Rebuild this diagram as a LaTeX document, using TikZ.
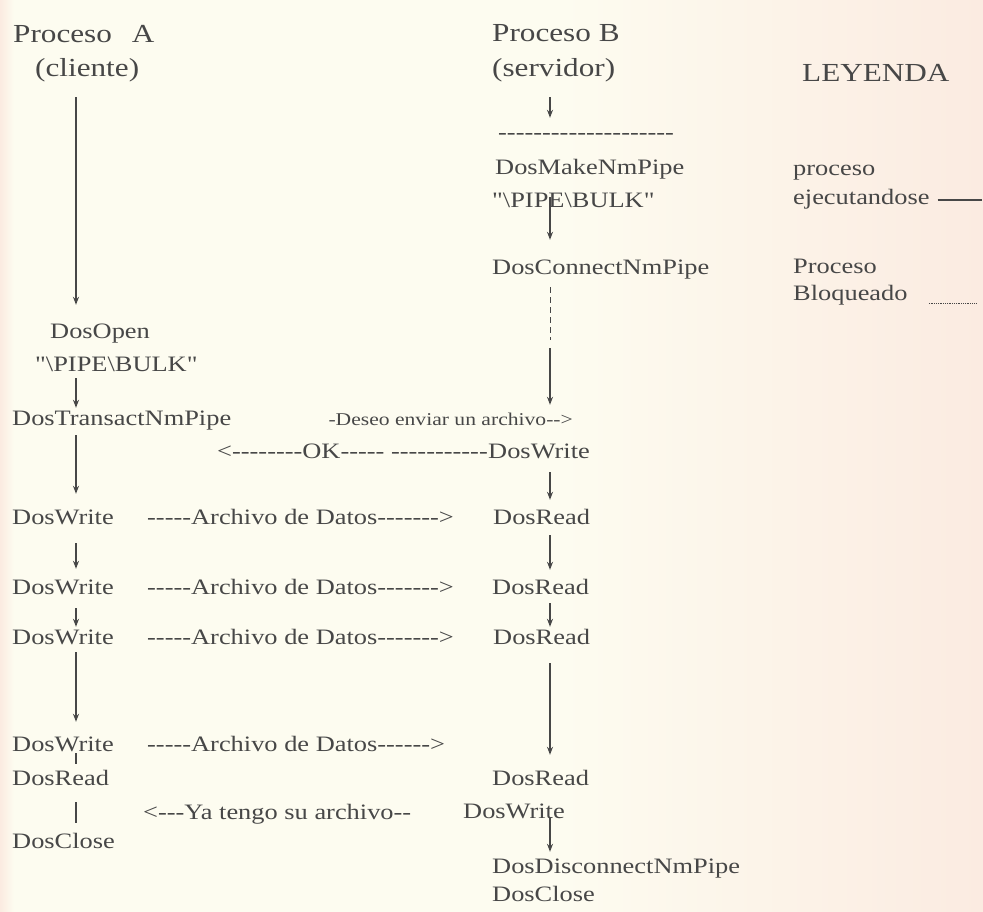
\documentclass[tikz,border=0pt]{standalone}
\usepackage{fontspec}
\setmainfont{Liberation Serif}[FakeStretch=1.2, Ligatures=TeXOff]
\usetikzlibrary{arrows.meta}
\definecolor{ink}{HTML}{474747}
\definecolor{paper}{HTML}{FDFCF0}
\definecolor{paperpink}{HTML}{FBEBE1}
\begin{document}
\begin{tikzpicture}[x=1pt,y=-1pt,
  lbl/.style={inner sep=0pt, anchor=base west, text=ink,
    font=\fontsize{22}{26}\selectfont, text height=15pt, text depth=4pt},
  head/.style={lbl, font=\fontsize{26}{30}\selectfont},
  small/.style={lbl, font=\fontsize{18}{22}\selectfont, text height=12pt},
  flow/.style={draw=ink, line width=1.1pt, -{Stealth[length=8pt,width=6pt]}},
  plain/.style={draw=ink, line width=1.1pt},
  blocked/.style={draw=ink, line width=1pt, dash pattern=on 6pt off 4pt},
]
% paper
\fill[paper] (0,0) rectangle (983,912);
\shade[left color=paper, right color=paperpink] (560,0) rectangle (983,912);
\shade[left color=paperpink, right color=paper] (0,0) rectangle (14,912);
\useasboundingbox (0,0) rectangle (983,912);

% column axes
\coordinate (xA) at (76,0);
\coordinate (xB) at (550,0);

% headings
\node[head] (pa)   at (13,43)  {Proceso\hspace{20pt}A};
\node[head] (pacl) at (35,77)  {(cliente)};
\node[head] (pb)   at (492,42) {Proceso B};
\node[head] (pbsv) at (492,77) {(servidor)};
\node[head] (ley)  at (802,82) {LEYENDA};

% legend
\node[lbl] (lg1) at (793,176) {proceso};
\node[lbl] (lg2) at (793,205) {ejecutandose};
\node[lbl] (lg3) at (793,274) {Proceso};
\node[lbl] (lg4) at (793,301) {Bloqueado};
\draw[ink, line width=1.6pt] ([xshift=8pt,yshift=5pt]lg2.base east) -- ++(44,0);
\draw[ink, line width=0.8pt, densely dotted] ([xshift=21pt,yshift=-2pt]lg4.base east) -- ++(47,0);

% process A (client)
\node[lbl] (aopen)  at (50,338) {DosOpen};
\node[lbl] (apipe)  at (35,371) {"\textbackslash PIPE\textbackslash BULK"};
\node[lbl] (atrans) at (12,425) {DosTransactNmPipe};
\node[lbl] (aw1)    at (12,524) {DosWrite};
\node[lbl] (aw2)    at (12,594) {DosWrite};
\node[lbl] (aw3)    at (12,644) {DosWrite};
\node[lbl] (aw4)    at (12,751) {DosWrite};
\node[lbl] (ard)    at (12,785) {DosRead};
\node[lbl] (acl)    at (12,848) {DosClose};

% process B (server)
\node[lbl] (bdash) at (498,140) {--------------------};
\node[lbl] (bmake) at (495,175) {DosMakeNmPipe};
\node[lbl] (bpipe) at (492,208) {"\textbackslash PIPE\textbackslash BULK"};
\node[lbl] (bconn) at (492,275) {DosConnectNmPipe};
\node[small, anchor=base east] (deseo) at (573,425) {-Deseo enviar un archivo-->};
\node[lbl, anchor=base east] (bw1) at (590,458) {DosWrite};
\node[lbl, anchor=base east] (okmsg) at (bw1.base west) {<--------OK----- -----------};
\node[lbl] (br1)   at (493,524) {DosRead};
\node[lbl] (br2)   at (492,594) {DosRead};
\node[lbl] (br3)   at (493,644) {DosRead};
\node[lbl] (br4)   at (492,785) {DosRead};
\node[lbl] (bw2)   at (463,818) {DosWrite};
\node[lbl] (bdisc) at (492,873) {DosDisconnectNmPipe};
\node[lbl] (bcl)   at (492,901) {DosClose};

% messages between the processes
\node[lbl] (m1) at (147,524) {-----Archivo de Datos------->};
\node[lbl] (m2) at (147,594) {-----Archivo de Datos------->};
\node[lbl] (m3) at (147,644) {-----Archivo de Datos------->};
\node[lbl] (m4) at (147,751) {-----Archivo de Datos------>};
\node[lbl] (m5) at (143,819) {<---Ya tengo su archivo--};

% flow of process A
\draw[flow, shorten <=16pt, shorten >=18pt] (pacl.south -| xA) -- (aopen.north -| xA);
\draw[flow, shorten <=3pt, shorten >=2pt] (apipe.south -| xA) -- (atrans.north -| xA);
\draw[flow, shorten <=6pt, shorten >=15pt] (atrans.south -| xA) -- (aw1.north -| xA);
\draw[flow, shorten <=15pt, shorten >=10pt] (aw1.south -| xA) -- (aw2.north -| xA);
\draw[flow, shorten <=10pt, shorten >=2pt] (aw2.south -| xA) -- (aw3.north -| xA);
\draw[flow, shorten <=4pt, shorten >=14pt] (aw3.south -| xA) -- (aw4.north -| xA);
\draw[plain, shorten <=-2pt, shorten >=6pt] (aw4.south -| xA) -- (ard.north -| xA);
\draw[plain, shorten <=13pt, shorten >=10pt] (ard.south -| xA) -- (acl.north -| xA);

% flow of process B
\draw[flow, shorten <=16pt, shorten >=7pt] (pbsv.south -| xB) -- (bdash.north -| xB);
\draw[flow, shorten <=-15pt, shorten >=20pt] (bpipe.south -| xB) -- (bconn.north -| xB);
\coordinate (bwait) at (550,340);
\draw[blocked, shorten <=8pt] (bconn.south -| xB) -- (bwait);
\draw[flow, shorten <=8pt, shorten >=8pt] (bwait) -- (deseo.north -| xB);
\draw[flow, shorten <=10pt, shorten >=9pt] (bw1.south -| xB) -- (br1.north -| xB);
\draw[flow, shorten <=7pt, shorten >=9pt] (br1.south -| xB) -- (br2.north -| xB);
\draw[flow, shorten <=5pt, shorten >=2pt] (br2.south -| xB) -- (br3.north -| xB);
\draw[flow, shorten <=15pt, shorten >=15pt] (br3.south -| xB) -- (br4.north -| xB);
\draw[flow, shorten <=-4pt, shorten >=6pt] (bw2.south -| xB) -- (bdisc.north -| xB);
\end{tikzpicture}
\end{document}
